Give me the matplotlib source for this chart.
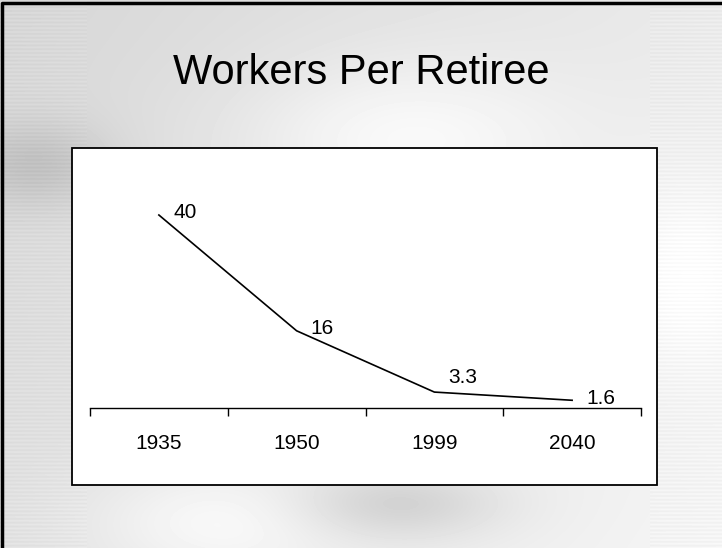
import matplotlib

matplotlib.use("Agg")
import matplotlib.pyplot as plt
import numpy as np
from matplotlib.patches import Rectangle

years = ["1935", "1950", "1999", "2040"]
workers = [40, 16, 3.3, 1.6]
labels = ["40", "16", "3.3", "1.6"]

# label offsets in pixels (dx, dy), as placed by the original
labelOffsets = [(15, 2), (14, 2), (14, 15), (14, 2)]

W, H = 722, 548
fig = plt.figure(figsize=(W / 100, H / 100), dpi=100)
plt.rcParams["font.family"] = ["Liberation Sans", "DejaVu Sans"]

# slide background: soft gray swirl with faint horizontal streaks
bg = fig.add_axes([0, 0, 1, 1], zorder=0)
yy, xx = np.mgrid[0:H, 0:W] / np.array([H, W])[:, None, None]
img = 0.84 + 0.08 * xx + 0.04 * yy
img -= 0.10 * np.exp(-((xx - 0.05) ** 2 / 0.01 + (yy - 0.3) ** 2 / 0.006))
img += 0.08 * np.exp(-((xx - 0.55) ** 2 / 0.05 + (yy - 0.25) ** 2 / 0.02))
img += 0.07 * np.exp(-((xx - 0.3) ** 2 / 0.03 + (yy - 0.95) ** 2 / 0.01))
img -= 0.10 * np.exp(-((xx - 0.55) ** 2 / 0.02 + (yy - 0.92) ** 2 / 0.004))
img += 0.06 * np.exp(-((xx - 0.95) ** 2 / 0.01 + (yy - 0.5) ** 2 / 0.03))
rows = np.linspace(0, 1, H)[:, None]
img += 0.015 * np.sin(rows * 900) * (1 - xx) * (xx < 0.12)
img += 0.015 * np.sin(rows * 900) * (xx > 0.9)
img = np.clip(img, 0, 1)
bg.imshow(img, cmap="gray", vmin=0, vmax=1, extent=[0, 1, 0, 1],
          aspect="auto", origin="upper")
bg.set_xlim(0, 1)
bg.set_ylim(0, 1)
bg.axis("off")

# outer frame: left and top edges only
bg.plot([0.003, 0.003, 1.0], [0, 0.995, 0.995],
        color="black", lw=2.5, solid_capstyle="butt")

# white chart box
bx0, by0, bx1, by1 = 72 / W, 1 - 485 / H, 657 / W, 1 - 148 / H
bg.add_patch(Rectangle((bx0, by0), bx1 - bx0, by1 - by0,
                       facecolor="white", edgecolor="black", lw=1.3))

bg.text(0.5, 1 - 84 / H, "Workers Per Retiree", ha="center", va="baseline",
        fontsize=30, color="black")

# line chart
ax = fig.add_axes([90 / W, 1 - 408 / H, 551 / W, (408 - 215) / H], zorder=2)
ax.patch.set_alpha(0)
x = np.arange(len(years))
ax.plot(x, workers, color="black", lw=1.2, clip_on=False)
for xi, v, lab, (dx, dy) in zip(x, workers, labels, labelOffsets):
    ax.annotate(lab, (xi, v), xytext=(dx * 0.72, dy * 0.72),
                textcoords="offset points", ha="left", va="center",
                fontsize=15)

ax.set_xlim(-0.5, len(years) - 0.5)
ax.set_ylim(0, 40)
for side in ["left", "right", "top"]:
    ax.spines[side].set_visible(False)
ax.spines["bottom"].set_linewidth(1.0)
ax.set_yticks([])
ax.set_xticks(x)
ax.set_xticklabels(years, fontsize=15)
ax.set_xticks(np.arange(-0.5, len(years)), minor=True)
ax.tick_params(axis="x", which="major", length=0, pad=19)
ax.tick_params(axis="x", which="minor", length=6, width=1.0, direction="out")

fig.savefig("out.png", dpi=100)
